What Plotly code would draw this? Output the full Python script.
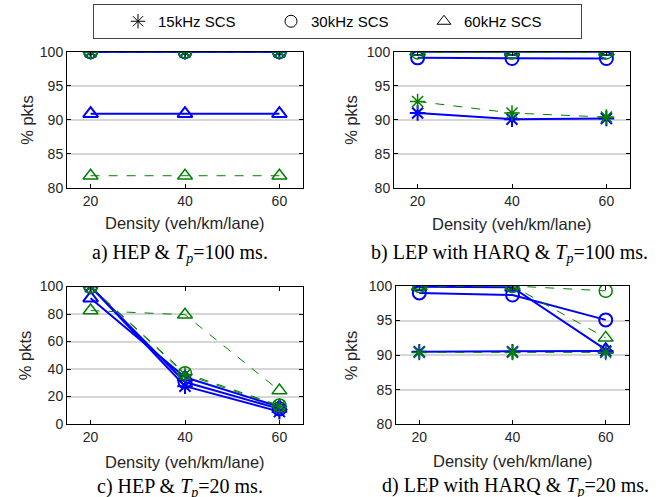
import plotly.graph_objects as go

W, H = 666, 497

density = [20, 40, 60]

# a) HEP & Tp=100 ms
a_blue_15 = [100.0, 100.0, 100.0]
a_blue_30 = [100.0, 100.0, 100.0]
a_blue_60 = [90.9, 90.9, 90.9]
a_green_15 = [100.0, 100.0, 100.0]
a_green_30 = [100.0, 100.0, 100.0]
a_green_60 = [81.8, 81.8, 81.8]

# b) LEP with HARQ & Tp=100 ms
b_blue_15 = [91.0, 90.1, 90.2]
b_blue_30 = [99.1, 99.0, 99.0]
b_blue_60 = [100.0, 100.0, 100.0]
b_green_15 = [92.7, 91.0, 90.4]
b_green_30 = [99.9, 99.9, 99.9]
b_green_60 = [100.0, 100.0, 100.0]

# c) HEP & Tp=20 ms
c_blue_15 = [100.0, 27.5, 9.0]
c_blue_30 = [100.0, 30.5, 11.0]
c_blue_60 = [91.5, 34.0, 12.5]
c_green_15 = [100.0, 36.0, 13.0]
c_green_30 = [100.0, 37.0, 13.5]
c_green_60 = [82.5, 79.5, 24.3]

# d) LEP with HARQ & Tp=20 ms
d_blue_15 = [90.5, 90.5, 90.6]
d_blue_30 = [99.0, 98.7, 95.1]
d_blue_60 = [99.9, 99.8, 90.8]
d_green_15 = [90.4, 90.4, 90.4]
d_green_30 = [100.0, 100.0, 99.3]
d_green_60 = [100.0, 100.0, 92.5]

legend_names = ["15kHz SCS", "30kHz SCS", "60kHz SCS"]
symbols = ["asterisk-open", "circle-open", "triangle-up-open"]

y_ticks_narrow = [80, 85, 90, 95, 100]
y_ticks_wide = [0, 20, 40, 60, 80, 100]
x_ticks = [20, 40, 60]

captions = [
    "a) HEP &amp; <i>T<sub>p</sub></i>=100 ms.",
    "b) LEP with HARQ &amp; <i>T<sub>p</sub></i>=100 ms.",
    "c) HEP &amp; <i>T<sub>p</sub></i>=20 ms.",
    "d) LEP with HARQ &amp; <i>T<sub>p</sub></i>=20 ms.",
]

BLUE = "rgb(0,0,255)"
GREEN = "rgb(0,128,0)"

panels = [
    dict(blue=[a_blue_15, a_blue_30, a_blue_60], green=[a_green_15, a_green_30, a_green_60],
         box=(67, 303, 51.7, 188), yr=[80, 100], yt=y_ticks_narrow),
    dict(blue=[b_blue_15, b_blue_30, b_blue_60], green=[b_green_15, b_green_30, b_green_60],
         box=(394, 630, 51.7, 188), yr=[80, 100], yt=y_ticks_narrow),
    dict(blue=[c_blue_15, c_blue_30, c_blue_60], green=[c_green_15, c_green_30, c_green_60],
         box=(67, 303, 286.5, 424), yr=[0, 100], yt=y_ticks_wide),
    dict(blue=[d_blue_15, d_blue_30, d_blue_60], green=[d_green_15, d_green_30, d_green_60],
         box=(396, 629, 286, 424.3), yr=[80, 100], yt=y_ticks_narrow),
]

fig = go.Figure()
layout = {}
annotations = []
FONT = "Liberation Sans, Arial, sans-serif"
TXT = "#262626"

for i, p in enumerate(panels):
    n = "" if i == 0 else str(i + 1)
    xa, ya = "x" + n, "y" + n
    x0, x1, y0, y1 = p["box"]
    for s, ys in zip(symbols, p["blue"]):
        fig.add_trace(go.Scatter(x=density, y=ys, xaxis=xa, yaxis=ya, mode="lines+markers",
                                 line=dict(color=BLUE, width=2),
                                 marker=dict(symbol=s, size=13, color=BLUE, line=dict(color=BLUE, width=2)),
                                 showlegend=False))
    for s, ys in zip(symbols, p["green"]):
        fig.add_trace(go.Scatter(x=density, y=ys, xaxis=xa, yaxis=ya, mode="lines+markers",
                                 line=dict(color=GREEN, width=1, dash="dash"),
                                 marker=dict(symbol=s, size=13, color=GREEN, line=dict(color=GREEN, width=1.5)),
                                 showlegend=False))
    layout["xaxis" + n] = dict(domain=[x0 / W, x1 / W], anchor=ya, range=[15, 65],
                               tickvals=x_ticks, ticks="inside", ticklen=4, tickcolor="black",
                               showline=True, linecolor="black", linewidth=1, mirror="ticks",
                               showgrid=False, zeroline=False,
                               tickfont=dict(family=FONT, size=14, color=TXT))
    layout["yaxis" + n] = dict(domain=[1 - y1 / H, 1 - y0 / H], anchor=xa, range=p["yr"],
                               tickvals=p["yt"], ticks="inside", ticklen=4, tickcolor="black",
                               showline=True, linecolor="black", linewidth=1, mirror="ticks",
                               showgrid=True, gridcolor="#d6d6d6", gridwidth=1.5, zeroline=False,
                               tickfont=dict(family=FONT, size=14, color=TXT))

# legend-only traces
for k, (name, s) in enumerate(zip(legend_names, symbols)):
    extra = dict(legendwidth=112) if k == len(legend_names) - 1 else {}
    fig.add_trace(go.Scatter(x=[None], y=[None], mode="markers", name=name,
                             marker=dict(symbol=s, size=12, color="black", line=dict(color="black", width=1)),
                             **extra))

# axis titles and captions
ytitle_x = [27, 351, 25, 351]
xtitle_y = [223, 224, 462, 461]
cap_pos = [(180, 253), (509, 253), (180, 487), (515, 486)]
for i, p in enumerate(panels):
    x0, x1, y0, y1 = p["box"]
    annotations.append(dict(text="% pkts", x=ytitle_x[i] / W, y=1 - ((y0 + y1) / 2) / H, xref="paper", yref="paper",
                            textangle=-90, showarrow=False, xanchor="center", yanchor="middle",
                            font=dict(family=FONT, size=16.5, color=TXT)))
    annotations.append(dict(text="Density (veh/km/lane)", x=((x0 + x1) / 2) / W, y=1 - xtitle_y[i] / H,
                            xref="paper", yref="paper", showarrow=False, xanchor="center", yanchor="middle",
                            font=dict(family=FONT, size=16.5, color=TXT)))
    cx, cy = cap_pos[i]
    annotations.append(dict(text=captions[i], x=cx / W, y=1 - cy / H, xref="paper", yref="paper",
                            showarrow=False, xanchor="center", yanchor="middle",
                            font=dict(family="Liberation Serif, Times New Roman, serif", size=20, color="black")))

fig.update_layout(
    width=W, height=H, margin=dict(l=0, r=0, t=0, b=0, autoexpand=False),
    paper_bgcolor="white", plot_bgcolor="white",
    annotations=annotations,
    legend=dict(orientation="h", x=93 / W, xanchor="left", y=1 - 4 / H, yanchor="top",
                bordercolor="#444", borderwidth=1, bgcolor="white",
                entrywidth=84, itemwidth=30, indentation=24,
                font=dict(family=FONT, size=15, color="black")),
    **layout,
)

fig.write_html("out.html", config={"displayModeBar": False},
               post_script="document.body.style.margin='0';")
